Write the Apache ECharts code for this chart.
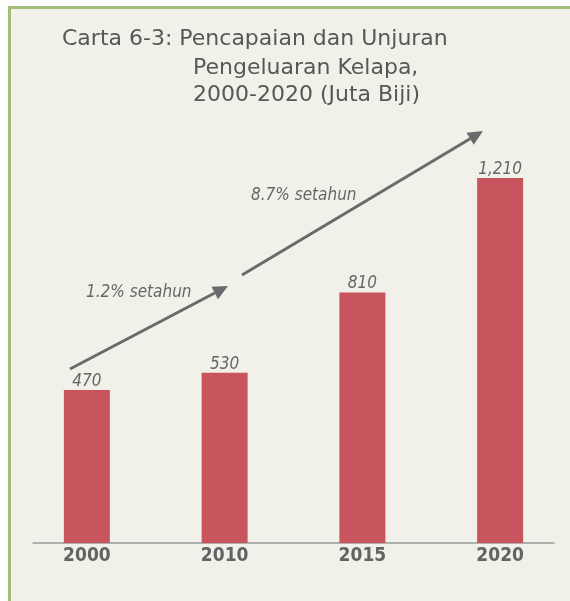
<!DOCTYPE html>
<html>
<head>
<meta charset="utf-8">
<script src="https://cdn.jsdelivr.net/npm/echarts@6/dist/echarts.min.js"></script>
<style>
 html, body { margin: 0; padding: 0; background: #ffffff; }
 #panel {
  position: absolute; left: 8px; top: 6px; width: 562px; height: 595px;
  box-sizing: border-box; background: #f1f1ea;
  border-top: 3px solid #a3bd7a; border-left: 3px solid #a3bd7a;
 }
 #main { position: absolute; left: 0; top: 0; width: 570px; height: 601px; }
</style>
</head>
<body>
<div id="panel"></div>
<div id="main"></div>
<script>
 /*global echarts*/

 var years = ["2000", "2010", "2015", "2020"];
 var output = [470, 530, 810, 1210];
 var growthNotes = ["1.2% setahun", "8.7% setahun"];
 // the original chart does not start its bars at zero
 var axisFloor = -64;

 var grey = "#666666";
 var barColor = "#c8555d";
 var narrow = "'Liberation Sans Narrow', 'DejaVu Sans Condensed', 'Liberation Sans', sans-serif";

 // line with an arrowhead ending at (x2, y2)
 function arrow(x1, y1, x2, y2) {
  var a = Math.atan2(y2 - y1, x2 - x1);
  var len = 15, half = 7;
  var bx = x2 - len * Math.cos(a), by = y2 - len * Math.sin(a);
  var px = -Math.sin(a) * half, py = Math.cos(a) * half;
  return [
   { type: "line", shape: { x1: x1, y1: y1, x2: bx, y2: by }, style: { stroke: "#6a6a6c", lineWidth: 3 } },
   { type: "polygon", shape: { points: [[x2, y2], [bx + px, by + py], [bx - px, by - py]] }, style: { fill: "#6a6a6c" } }
  ];
 }

 var dom = document.getElementById("main");
 var myChart = echarts.init(dom);
 var option = null;
 option = {
  backgroundColor: "transparent",
  animation: false,
  title: [
   { text: "Carta 6-3: Pencapaian dan Unjuran", left: 62, top: 28 },
   { text: "Pengeluaran Kelapa,", left: 193, top: 57 },
   { text: "2000-2020 (Juta Biji)", left: 193, top: 84 }
  ].map(function(t) {
   t.padding = 0;
   t.textStyle = { fontFamily: "'DejaVu Sans', sans-serif", fontSize: 22, fontWeight: "normal", color: "#575757" };
   return t;
  }),
  grid: [
   { left: 18, right: 1, top: 100, bottom: 58 },
   { left: 33, right: 16, top: 100, bottom: 58 }
  ],
  xAxis: [{
   gridIndex: 0,
   type: "category",
   data: years,
   axisLine: { show: false },
   axisTick: { show: false },
   axisLabel: { margin: 4, fontFamily: narrow, fontSize: 19, fontWeight: "bold", color: "#636363" }
  }, {
   gridIndex: 1,
   type: "category",
   data: years,
   axisLine: { lineStyle: { color: "#9a9a9a", width: 1.5 } },
   axisTick: { length: 6, lineStyle: { color: "#9a9a9a", width: 1.5 } },
   axisLabel: { show: false }
  }],
  yAxis: [
   { gridIndex: 0, type: "value", min: axisFloor, max: 1482, startValue: axisFloor, show: false },
   { gridIndex: 1, type: "value", min: 0, max: 1, show: false }
  ],
  series: [{
   name: "Pengeluaran",
   type: "bar",
   barWidth: 46,
   itemStyle: { color: barColor },
   label: {
    show: true,
    position: "top",
    distance: 0,
    fontFamily: narrow,
    fontStyle: "italic",
    fontSize: 17,
    color: grey,
    formatter: function(p) {
     return p.value.toLocaleString("en-US");
    }
   },
   data: output
  }],
  graphic: arrow(70, 369, 228, 286).concat(arrow(242, 275, 483, 131)).concat([
   { type: "text", left: 86, top: 284, style: { text: growthNotes[0], font: "italic 17px " + narrow, fill: grey } },
   { type: "text", left: 251, top: 187, style: { text: growthNotes[1], font: "italic 17px " + narrow, fill: grey } }
  ])
 };
 if (option && typeof option === "object") {
  myChart.setOption(option, true);
 }
</script>
</body>
</html>
